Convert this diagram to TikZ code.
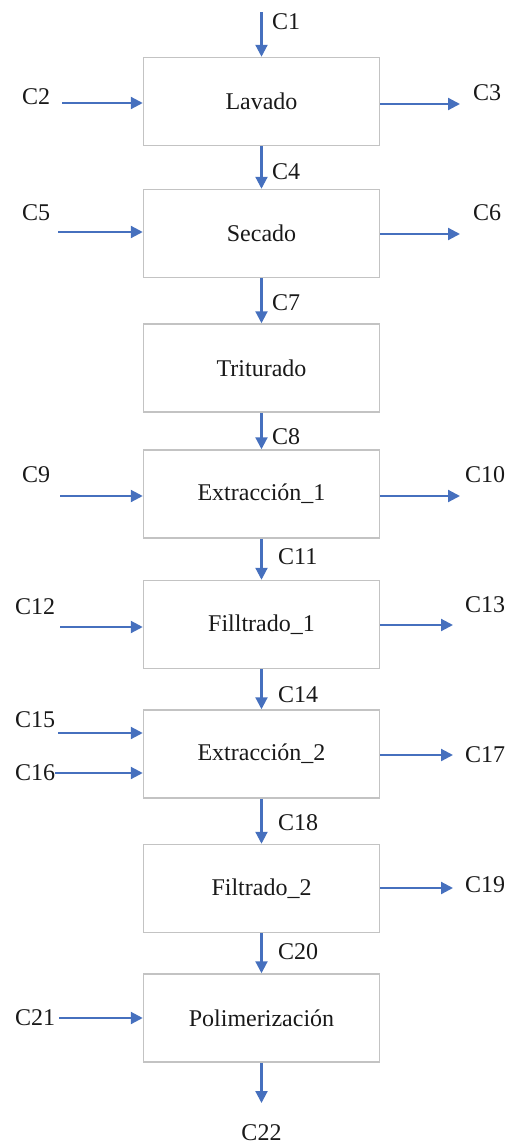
\documentclass[tikz,border=0pt]{standalone}
\usepackage{fontspec}
\setmainfont{Liberation Serif}
\usetikzlibrary{arrows.meta}
\definecolor{flow}{RGB}{70,112,190}
\definecolor{boxgray}{RGB}{195,195,195}
\definecolor{txt}{RGB}{25,25,25}
\begin{document}
\begin{tikzpicture}[x=1pt,y=-1pt,
  proc/.style={draw=boxgray, line width=1.5pt, minimum width=236pt, minimum height=88pt, inner sep=0pt, font=\fontsize{24}{28}\selectfont, text=txt},
  lbl/.style={inner sep=0pt, font=\fontsize{24}{28}\selectfont, text=txt},
  flowline/.style={draw=flow, line width=2.2pt, -{Triangle[length=12pt,width=12pt]}}]
\useasboundingbox (0,0) rectangle (512,1146);
% process boxes
\node[proc] (lav) at (261.5,101.5) {Lavado};
\node[proc] (sec) at (261.5,233.5) {Secado};
\node[proc] (tri) at (261.5,368) {Triturado};
\node[proc] (exa) at (261.5,494) {Extracción\_1};
\node[proc] (fia) at (261.5,624.5) {Filltrado\_1};
\node[proc] (exb) at (261.5,754) {Extracción\_2};
\node[proc] (fib) at (261.5,888.5) {Filtrado\_2};
\node[proc] (pol) at (261.5,1018) {Polimerización};
% vertical labels
\node[lbl, anchor=west] (c1) at (272,22) {C1};
\node[lbl, anchor=west] (c4) at (272,172) {C4};
\node[lbl, anchor=west] (c7) at (272,303) {C7};
\node[lbl, anchor=west] (c8) at (272,437) {C8};
\node[lbl, anchor=west] (c11) at (278,557) {C11};
\node[lbl, anchor=west] (c14) at (278,695) {C14};
\node[lbl, anchor=west] (c18) at (278,823) {C18};
\node[lbl, anchor=west] (c20) at (278,952) {C20};
\node[lbl] (c22) at (261.5,1133) {C22};
% left labels
\node[lbl, anchor=west] (c2) at (22,97) {C2};
\node[lbl, anchor=west] (c5) at (22,213) {C5};
\node[lbl, anchor=west] (c9) at (22,475) {C9};
\node[lbl, anchor=west] (c12) at (15,607) {C12};
\node[lbl, anchor=west] (c15) at (15,720) {C15};
\node[lbl, anchor=west] (c16) at (15,773) {C16};
\node[lbl, anchor=west] (c21) at (15,1018) {C21};
% right labels
\node[lbl, anchor=west] (c3) at (473,93) {C3};
\node[lbl, anchor=west] (c6) at (473,213) {C6};
\node[lbl, anchor=west] (c10) at (465,475) {C10};
\node[lbl, anchor=west] (c13) at (465,605) {C13};
\node[lbl, anchor=west] (c17) at (465,755) {C17};
\node[lbl, anchor=west] (c19) at (465,885) {C19};
% coordinates for free ends
\coordinate (c1s) at (261.5,12);
\coordinate (c22e) at (261.5,1103);
\coordinate (c2s) at (62,103);
\coordinate (c5s) at (58,232);
\coordinate (c9s) at (60,496);
\coordinate (c12s) at (60,627);
\coordinate (c15s) at (58,733);
\coordinate (c3e) at (460,104);
\coordinate (c6e) at (460,234);
\coordinate (c10e) at (460,496);
\coordinate (c13e) at (453,625);
\coordinate (c17e) at (453,755);
\coordinate (c19e) at (453,888);
% main vertical flow
\draw[flowline] (c1s) -- (lav.north);
\draw[flowline] (lav.south) -- (sec.north);
\draw[flowline] (sec.south) -- (tri.north);
\draw[flowline] (tri.south) -- (exa.north);
\draw[flowline] (exa.south) -- (fia.north);
\draw[flowline] (fia.south) -- (exb.north);
\draw[flowline] (exb.south) -- (fib.north);
\draw[flowline] (fib.south) -- (pol.north);
\draw[flowline] (pol.south) -- (c22e);
% inputs
\draw[flowline] (c2s) -- (c2s -| lav.west);
\draw[flowline] (c5s) -- (c5s -| sec.west);
\draw[flowline] (c9s) -- (c9s -| exa.west);
\draw[flowline] (c12s) -- (c12s -| fia.west);
\draw[flowline] (c15s) -- (c15s -| exb.west);
\draw[flowline] (c16.east) -- (c16.east -| exb.west);
\draw[flowline, shorten <=4pt] (c21.east) -- (c21.east -| pol.west);
% outputs
\draw[flowline] (c3e -| lav.east) -- (c3e);
\draw[flowline] (c6e -| sec.east) -- (c6e);
\draw[flowline] (c10e -| exa.east) -- (c10e);
\draw[flowline] (c13e -| fia.east) -- (c13e);
\draw[flowline] (c17e -| exb.east) -- (c17e);
\draw[flowline] (c19e -| fib.east) -- (c19e);
\end{tikzpicture}
\end{document}
